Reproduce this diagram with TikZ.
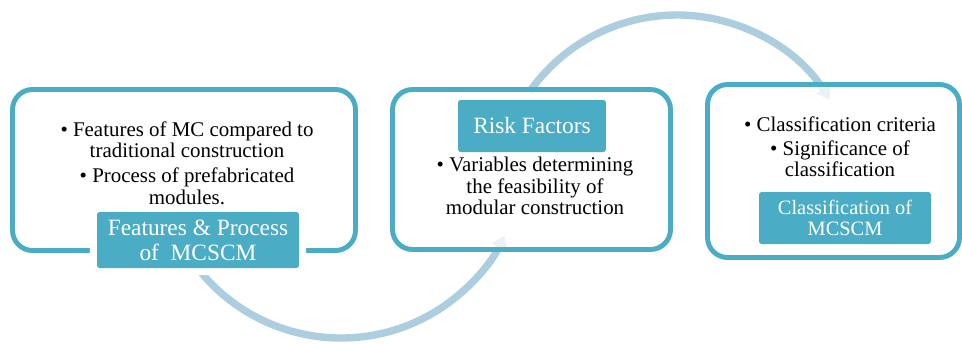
\documentclass[tikz,border=0pt]{standalone}
\usepackage{fontspec}
\setmainfont{Liberation Serif}
\usetikzlibrary{arrows.meta}
\definecolor{boxblue}{RGB}{75,172,198}
\definecolor{arcblue}{RGB}{172,206,222}
\begin{document}
\begin{tikzpicture}[x=0.02cm,y=0.02cm,
	panel/.style={draw=boxblue,line width=2.8pt,rounded corners=0.4cm,
		fill=white,fill opacity=0.75,text opacity=1},
	tag/.style={fill=boxblue,text=white,rounded corners=1.5pt,inner sep=0pt,
		align=center,font=\fontsize{13.3}{14.2}\selectfont},
	items/.style={align=center,inner sep=0pt,font=\fontsize{11.9}{12.2}\selectfont},
	flow/.style={draw=arcblue,line width=4.2pt,-{Triangle[width=9pt,length=7pt]}}]
\useasboundingbox (0,0) rectangle (962,343);
% the two arcs behind the panels
\coordinate (low) at (341,187);
\coordinate (high) at (677,148);
\draw[flow] (low) ++(215:182) arc[start angle=215,end angle=334,radius=182];
\draw[flow] (high) ++(145:180) arc[start angle=145,end angle=32,radius=180];
% panels
\node[panel,minimum width=6.86cm,minimum height=3.22cm] (featbox) at (184,173) {};
\node[panel,minimum width=5.56cm,minimum height=3.2cm] (riskbox) at (531.5,173.5) {};
\node[panel,minimum width=5.04cm,minimum height=3.46cm] (classbox) at (833.5,172) {};
% titles
\node[tag,minimum width=4.04cm,minimum height=1.12cm,
	preaction={draw=white,line width=8pt}] (feattag) at (198,103)
	{Features \& Process\\of\ \ MCSCM};
\node[tag,minimum width=2.96cm,minimum height=1.04cm] (risktag) at (532,217) {Risk Factors};
\node[tag,minimum width=3.44cm,minimum height=1.04cm,
	font=\fontsize{11.6}{12.3}\selectfont] (classtag) at (845,125) {Classification of\\MCSCM};
% bullet texts
\node[items] (featitems) at (187,180) {\textbullet\ Features of MC compared to\\traditional construction\\[2pt]
	\textbullet\ Process of prefabricated\\modules.};
\node[items] (riskitems) at (535,157) {\textbullet\ Variables determining\\the feasibility of\\modular construction};
\node[items] (classitems) at (840,196) {\textbullet\ Classification criteria\\[1pt]\textbullet\ Significance of\\classification};
\end{tikzpicture}
\end{document}
